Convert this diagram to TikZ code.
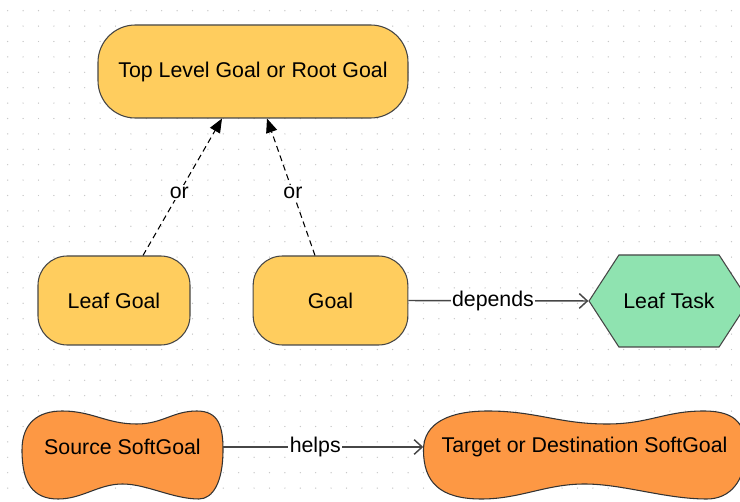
\documentclass[tikz,border=0pt]{standalone}
\usepackage{fontspec}
\setmainfont{Liberation Sans}
\usepackage{tikz}
\usetikzlibrary{positioning,calc,arrows.meta,shapes.symbols,backgrounds}

\definecolor{goalyellow}{RGB}{255,205,94}
\definecolor{taskgreen}{RGB}{143,227,176}
\definecolor{softorange}{RGB}{253,152,68}
\definecolor{griddot}{RGB}{200,200,200}
\definecolor{edgegray}{RGB}{70,70,70}

\newcommand{\softblob}[2]{%
  \begin{scope}[on background layer, shift={(#1.center)}]
    \pgfmathsetmacro{\bw}{#2}
    \filldraw[soft] ({-0.5*\bw},3)
      .. controls ({-0.5*\bw},-24) and ({-0.42*\bw},-36) .. ({-0.3*\bw},-36)
      .. controls ({-0.15*\bw},-36) and ({-0.08*\bw},-23) .. ({0.07*\bw},-23)
      .. controls ({0.2*\bw},-23) and ({0.25*\bw},-36) .. ({0.37*\bw},-36)
      .. controls ({0.48*\bw},-36) and ({0.5*\bw},-20) .. ({0.5*\bw},3)
      .. controls ({0.5*\bw},35) and ({0.45*\bw},52) .. ({0.38*\bw},52)
      .. controls ({0.25*\bw},52) and ({0.12*\bw},37) .. (0,37)
      .. controls ({-0.12*\bw},37) and ({-0.2*\bw},52) .. ({-0.32*\bw},52)
      .. controls ({-0.45*\bw},52) and ({-0.5*\bw},35) .. ({-0.5*\bw},3)
      -- cycle;
  \end{scope}}

\begin{document}
\begin{tikzpicture}[x=0.75pt, y=-0.75pt,
    every node/.style={font=\fontsize{16}{18}\selectfont},
    goal/.style={draw=edgegray, fill=goalyellow, line width=0.8pt,
      rounded corners=22pt, minimum width=114pt, minimum height=66.75pt},
    rootgoal/.style={goal, rounded corners=28pt,
      minimum width=232.5pt, minimum height=69.75pt},
    task/.style={signal, signal to=east and west, signal pointer angle=114,
      draw=edgegray, fill=taskgreen, line width=0.8pt,
      minimum width=114pt, minimum height=69pt},
    softgoal/.style={minimum height=60pt},
    soft/.style={draw=black!80, fill=softorange, line width=0.8pt},
    orlink/.style={-{Triangle[length=10.5pt,width=8.5pt]}, dash pattern=on 4.5pt off 3pt,
      line width=0.8pt},
    deplink/.style={-{Straight Barb[length=6pt,width=11pt]}, draw=edgegray,
      line width=1.1pt},
    lab/.style={fill=white, inner sep=1pt}
  ]
    \useasboundingbox (0,0) rectangle (740,502);
    % dotted grid
    \begin{scope}[on background layer]
      \foreach \i in {0,...,47}
        \foreach \j in {0,...,31}
          \fill[griddot] ({7.7+15.4*\i},{10.7+15.4*\j}) circle (0.55pt);
    \end{scope}

    \node[rootgoal] (root) at (253,71.5) {Top Level Goal or Root Goal};
    \node[goal] (leaf) at (114,300.5) {Leaf Goal};
    \node[goal, minimum width=116pt] (goal) at (330.5,300.5) {Goal};
    \node[task] (leaftask) at (669,301) {Leaf Task};
    \node[softgoal, minimum width=150.75pt] (src) at (122.5,447) {Source SoftGoal};
    \node[softgoal, minimum width=241.5pt] (tgt) at (584.5,447) {Target or Destination SoftGoal};
    \softblob{src}{201}
    \softblob{tgt}{322}

    \draw[orlink] ($(leaf.north)+(29,0)$) -- node[lab, pos=0.46] {or} ($(root.south)+(-31,0)$);
    \draw[orlink] ($(goal.north)+(-15.5,0)$) -- node[lab, pos=0.46] {or} ($(root.south)+(14,0)$);

    \draw[deplink] (goal.east) -- node[lab, pos=0.47] {depends} (leaftask.west);
    \draw[deplink] (src.east) -- node[lab, pos=0.46] {helps} (tgt.west);
  \end{tikzpicture}
\end{document}
